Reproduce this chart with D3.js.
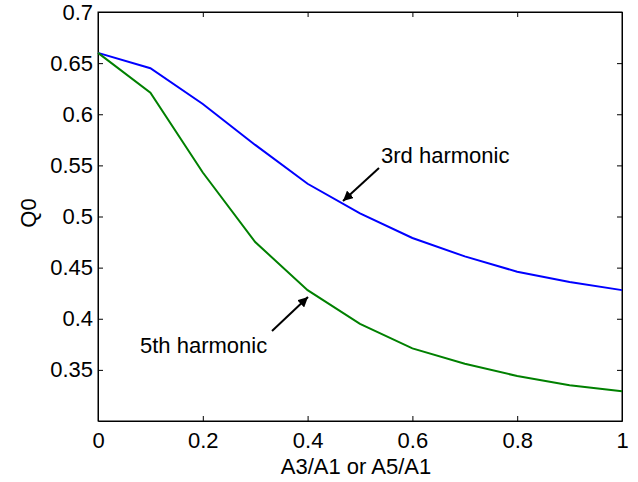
<!DOCTYPE html>
<html>
<head>
<meta charset="utf-8">
<script src="https://cdn.jsdelivr.net/npm/d3@7"></script>
<style>
  body { margin: 0; background: #fff; }
  svg { display: block; font-family: "Liberation Sans", Arial, sans-serif; }
</style>
</head>
<body>
<div id="chart"></div>
<script>
// data
const ratio = [0, 0.1, 0.2, 0.3, 0.4, 0.5, 0.6, 0.7, 0.8, 0.9, 1.0];
const third = [0.66, 0.645, 0.61, 0.57, 0.532, 0.503, 0.479, 0.461, 0.446, 0.436, 0.428];
const fifth = [0.66, 0.621, 0.543, 0.475, 0.428, 0.395, 0.371, 0.356, 0.344, 0.335, 0.329];
const xTicks = [0, 0.2, 0.4, 0.6, 0.8, 1];
const yTicks = [0.35, 0.4, 0.45, 0.5, 0.55, 0.6, 0.65, 0.7];

const width = 638, height = 482;
const margin = { left: 98, right: 16, top: 12, bottom: 61 };
const iw = width - margin.left - margin.right;
const ih = height - margin.top - margin.bottom;
const fs = "22px";

const svg = d3.select("#chart").append("svg")
  .attr("width", width)
  .attr("height", height);

const g = svg.append("g").attr("transform", `translate(${margin.left},${margin.top})`);

const x = d3.scaleLinear().domain([0, 1]).range([0, iw]);
const y = d3.scaleLinear().domain([0.3, 0.7]).range([ih, 0]);

const fmt = d => String(d);

// axes with inward ticks, mirrored on top and right
g.append("g").attr("transform", `translate(0,${ih})`)
  .call(d3.axisBottom(x).tickValues(xTicks).tickFormat(fmt).tickSizeInner(-5).tickSizeOuter(0).tickPadding(11));
g.append("g")
  .call(d3.axisLeft(y).tickValues(yTicks).tickFormat(fmt).tickSizeInner(-5).tickSizeOuter(0).tickPadding(5));
g.append("g")
  .call(d3.axisTop(x).tickValues(xTicks).tickFormat("").tickSizeInner(-5).tickSizeOuter(0));
g.append("g").attr("transform", `translate(${iw},0)`)
  .call(d3.axisRight(y).tickValues(yTicks).tickFormat("").tickSizeInner(-5).tickSizeOuter(0));

g.selectAll(".tick text").style("font-size", fs).attr("fill", "#000");
g.selectAll(".domain, .tick line").attr("stroke", "#000");

g.append("rect")
  .attr("width", iw).attr("height", ih)
  .attr("fill", "none").attr("stroke", "#000").attr("stroke-width", 1);

const line = d3.line().x((d, i) => x(ratio[i])).y(d => y(d));

g.append("path").datum(third)
  .attr("d", line).attr("fill", "none")
  .attr("stroke", "#0000ff").attr("stroke-width", 2);

g.append("path").datum(fifth)
  .attr("d", line).attr("fill", "none")
  .attr("stroke", "#008000").attr("stroke-width", 2);

// annotations
svg.append("defs").append("marker")
  .attr("id", "arrow")
  .attr("viewBox", "0 0 10 10")
  .attr("refX", 10).attr("refY", 5)
  .attr("markerWidth", 5).attr("markerHeight", 5)
  .attr("orient", "auto")
  .append("path").attr("d", "M0,0 L10,5 L0,10 Z").attr("fill", "#000");

svg.append("line")
  .attr("x1", 379).attr("y1", 168).attr("x2", 343).attr("y2", 201)
  .attr("stroke", "#000").attr("stroke-width", 2).attr("marker-end", "url(#arrow)");
svg.append("text").attr("x", 381).attr("y", 163)
  .style("font-size", fs).text("3rd harmonic");

svg.append("line")
  .attr("x1", 272).attr("y1", 331).attr("x2", 308).attr("y2", 297)
  .attr("stroke", "#000").attr("stroke-width", 2).attr("marker-end", "url(#arrow)");
svg.append("text").attr("x", 140).attr("y", 353)
  .style("font-size", fs).text("5th harmonic");

// axis labels
svg.append("text")
  .attr("x", 356).attr("y", 474)
  .attr("text-anchor", "middle").style("font-size", fs)
  .text("A3/A1 or A5/A1");
svg.append("text")
  .attr("transform", `translate(36,213) rotate(-90)`)
  .attr("text-anchor", "middle").style("font-size", fs)
  .text("Q0");
</script>
</body>
</html>
